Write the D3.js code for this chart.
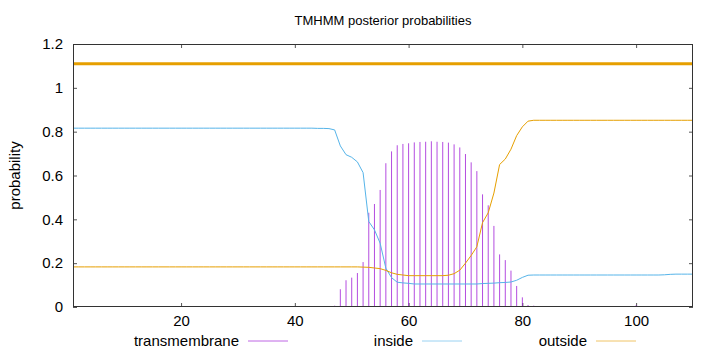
<!DOCTYPE html>
<html lang="en">
<head>
<meta charset="UTF-8">
<title>TMHMM posterior probabilities</title>
<style>
  body { margin: 0; background: #fff; }
  svg { display: block; font-family: "Liberation Sans", Arial, sans-serif; }
</style>
</head>
<body>
<div id="chart"></div>
<script src="https://d3js.org/d3.v7.min.js"></script>
<script>
// residue positions 1..110
const residues = d3.range(1, 111);

// posterior probabilities per residue
const inside = [
  0.816, 0.816, 0.816, 0.816, 0.816, 0.816, 0.816, 0.816, 0.816, 0.816,
  0.816, 0.816, 0.816, 0.816, 0.816, 0.816, 0.816, 0.816, 0.816, 0.816,
  0.816, 0.816, 0.816, 0.816, 0.816, 0.816, 0.816, 0.816, 0.816, 0.816,
  0.816, 0.816, 0.816, 0.816, 0.816, 0.816, 0.816, 0.816, 0.816, 0.816,
  0.816, 0.816, 0.816, 0.815, 0.815, 0.814, 0.808, 0.735, 0.695, 0.683,
  0.662, 0.613, 0.390, 0.352, 0.291, 0.177, 0.134, 0.113, 0.110, 0.108,
  0.105, 0.105, 0.105, 0.105, 0.105, 0.105, 0.105, 0.105, 0.105, 0.105,
  0.105, 0.105, 0.107, 0.108, 0.109, 0.111, 0.112, 0.114, 0.122, 0.135,
  0.145, 0.146, 0.146, 0.146, 0.146, 0.146, 0.146, 0.146, 0.146, 0.146,
  0.146, 0.146, 0.146, 0.146, 0.146, 0.146, 0.146, 0.146, 0.146, 0.146,
  0.146, 0.146, 0.146, 0.146, 0.147, 0.149, 0.150, 0.150, 0.150, 0.150
];

const outside = [
  0.183, 0.183, 0.183, 0.183, 0.183, 0.183, 0.183, 0.183, 0.183, 0.183,
  0.183, 0.183, 0.183, 0.183, 0.183, 0.183, 0.183, 0.183, 0.183, 0.183,
  0.183, 0.183, 0.183, 0.183, 0.183, 0.183, 0.183, 0.183, 0.183, 0.183,
  0.183, 0.183, 0.183, 0.183, 0.183, 0.183, 0.183, 0.183, 0.183, 0.183,
  0.183, 0.183, 0.183, 0.183, 0.183, 0.183, 0.183, 0.183, 0.183, 0.183,
  0.183, 0.182, 0.181, 0.178, 0.175, 0.167, 0.156, 0.149, 0.146, 0.143,
  0.143, 0.143, 0.143, 0.143, 0.143, 0.143, 0.145, 0.152, 0.168, 0.200,
  0.235, 0.275, 0.385, 0.430, 0.520, 0.650, 0.675, 0.720, 0.782, 0.822,
  0.848, 0.852, 0.852, 0.852, 0.852, 0.852, 0.852, 0.852, 0.852, 0.852,
  0.852, 0.852, 0.852, 0.852, 0.852, 0.852, 0.852, 0.852, 0.852, 0.852,
  0.852, 0.852, 0.852, 0.852, 0.852, 0.852, 0.852, 0.852, 0.852, 0.852
];

const transmembrane = [
  0, 0, 0, 0, 0, 0, 0, 0, 0, 0,
  0, 0, 0, 0, 0, 0, 0, 0, 0, 0,
  0, 0, 0, 0, 0, 0, 0, 0, 0, 0,
  0, 0, 0, 0, 0, 0, 0, 0, 0, 0,
  0, 0, 0, 0, 0, 0.002, 0.006, 0.081, 0.122, 0.134,
  0.155, 0.205, 0.430, 0.470, 0.534, 0.656, 0.710, 0.738, 0.744, 0.747,
  0.751, 0.753, 0.754, 0.756, 0.754, 0.753, 0.750, 0.742, 0.728, 0.698,
  0.660, 0.620, 0.514, 0.464, 0.370, 0.240, 0.214, 0.166, 0.096, 0.044,
  0.009, 0.006, 0.002, 0.002, 0.002, 0.002, 0.002, 0.002, 0.002, 0.002,
  0.002, 0.002, 0.002, 0.002, 0.002, 0.002, 0.002, 0.002, 0.002, 0.008,
  0.002, 0.002, 0.002, 0.002, 0.002, 0, 0, 0, 0, 0
];

// predicted topology: one outside segment over the whole sequence
const topology = [{ start: 1, end: 110, level: 1.11, type: "outside" }];

const xTicks = [20, 40, 60, 80, 100];
const yTicks = [0, 0.2, 0.4, 0.6, 0.8, 1, 1.2];
const yTickLabels = ["0", "0.2", "0.4", "0.6", "0.8", "1", "1.2"];

const seriesNames = ["transmembrane", "inside", "outside"];
const colors = { transmembrane: "#9400d3", inside: "#56b4e9", outside: "#e69f00" };

function draw() {
  const width = 720, height = 352;
  const margin = { top: 44, right: 27, bottom: 45, left: 73 };

  const x = d3.scaleLinear().domain([1, 110]).range([margin.left, width - margin.right]);
  const y = d3.scaleLinear().domain([0, 1.2]).range([height - margin.bottom, margin.top]);

  const svg = d3.select("#chart").append("svg")
    .attr("width", width)
    .attr("height", height)
    .attr("viewBox", [0, 0, width, height])
    .style("font-size", "15px");

  // title
  svg.append("text")
    .attr("x", (margin.left + width - margin.right) / 2)
    .attr("y", 25)
    .attr("text-anchor", "middle")
    .attr("fill", "#000")
    .style("font-size", "13px")
    .text("TMHMM posterior probabilities");

  // y label
  svg.append("text")
    .attr("transform", `translate(20,${(margin.top + height - margin.bottom) / 2}) rotate(-90)`)
    .attr("text-anchor", "middle")
    .attr("fill", "#000")
    .text("probability");

  const axisStyle = g => {
    g.select(".domain").remove();
    g.selectAll(".tick line").attr("stroke", "#555");
    g.selectAll(".tick text").attr("fill", "#000").style("font-size", "15px")
      .style("font-family", "\"Liberation Sans\", Arial, sans-serif");
  };

  svg.append("g")
    .attr("transform", `translate(0,${height - margin.bottom})`)
    .call(d3.axisBottom(x).tickValues(xTicks).tickSizeInner(-4).tickSizeOuter(0).tickPadding(8))
    .call(axisStyle);
  svg.append("g")
    .attr("transform", `translate(0,${margin.top})`)
    .call(d3.axisTop(x).tickValues(xTicks).tickSizeInner(-4).tickSizeOuter(0).tickFormat(""))
    .call(axisStyle);
  svg.append("g")
    .attr("transform", `translate(${margin.left},0)`)
    .call(d3.axisLeft(y).tickValues(yTicks).tickSizeInner(-4).tickSizeOuter(0).tickPadding(10)
      .tickFormat((d, i) => yTickLabels[i]))
    .call(axisStyle);
  svg.append("g")
    .attr("transform", `translate(${width - margin.right},0)`)
    .call(d3.axisRight(y).tickValues(yTicks).tickSizeInner(-4).tickSizeOuter(0).tickFormat(""))
    .call(axisStyle);

  // transmembrane impulses
  svg.append("g")
    .attr("stroke", colors.transmembrane)
    .attr("stroke-opacity", 0.7)
    .attr("stroke-width", 1)
    .selectAll("line")
    .data(residues.filter((r, i) => transmembrane[i] > 0))
    .join("line")
    .attr("x1", r => x(r))
    .attr("x2", r => x(r))
    .attr("y1", y(0))
    .attr("y2", r => y(transmembrane[r - 1]));

  const line = vals => d3.line()
    .x(r => x(r))
    .y(r => y(vals[r - 1]))(residues);

  svg.append("path")
    .attr("d", line(inside))
    .attr("fill", "none")
    .attr("stroke", colors.inside)
    .attr("stroke-width", 1);

  svg.append("path")
    .attr("d", line(outside))
    .attr("fill", "none")
    .attr("stroke", colors.outside)
    .attr("stroke-width", 1);

  // topology bar
  svg.append("g")
    .selectAll("line")
    .data(topology)
    .join("line")
    .attr("x1", d => x(d.start))
    .attr("x2", d => x(d.end))
    .attr("y1", d => y(d.level))
    .attr("y2", d => y(d.level))
    .attr("stroke", d => colors[d.type])
    .attr("stroke-width", 3);

  // border
  svg.append("rect")
    .attr("x", margin.left + 0.5)
    .attr("y", margin.top + 0.5)
    .attr("width", width - margin.left - margin.right - 1)
    .attr("height", height - margin.top - margin.bottom - 1)
    .attr("fill", "none")
    .attr("stroke", "#333")
    .attr("stroke-width", 1);

  // legend
  const legend = svg.append("g")
    .selectAll("g")
    .data(seriesNames)
    .join("g")
    .attr("transform", (d, i) => `translate(${239 + i * 174},341)`);
  legend.append("text")
    .attr("text-anchor", "end")
    .attr("dy", "0.35em")
    .attr("fill", "#000")
    .text(d => d);
  legend.append("line")
    .attr("x1", 9)
    .attr("x2", 49)
    .attr("stroke", d => colors[d])
    .attr("stroke-opacity", 0.6)
    .attr("stroke-width", 1);
}

draw();
</script>
</body>
</html>
